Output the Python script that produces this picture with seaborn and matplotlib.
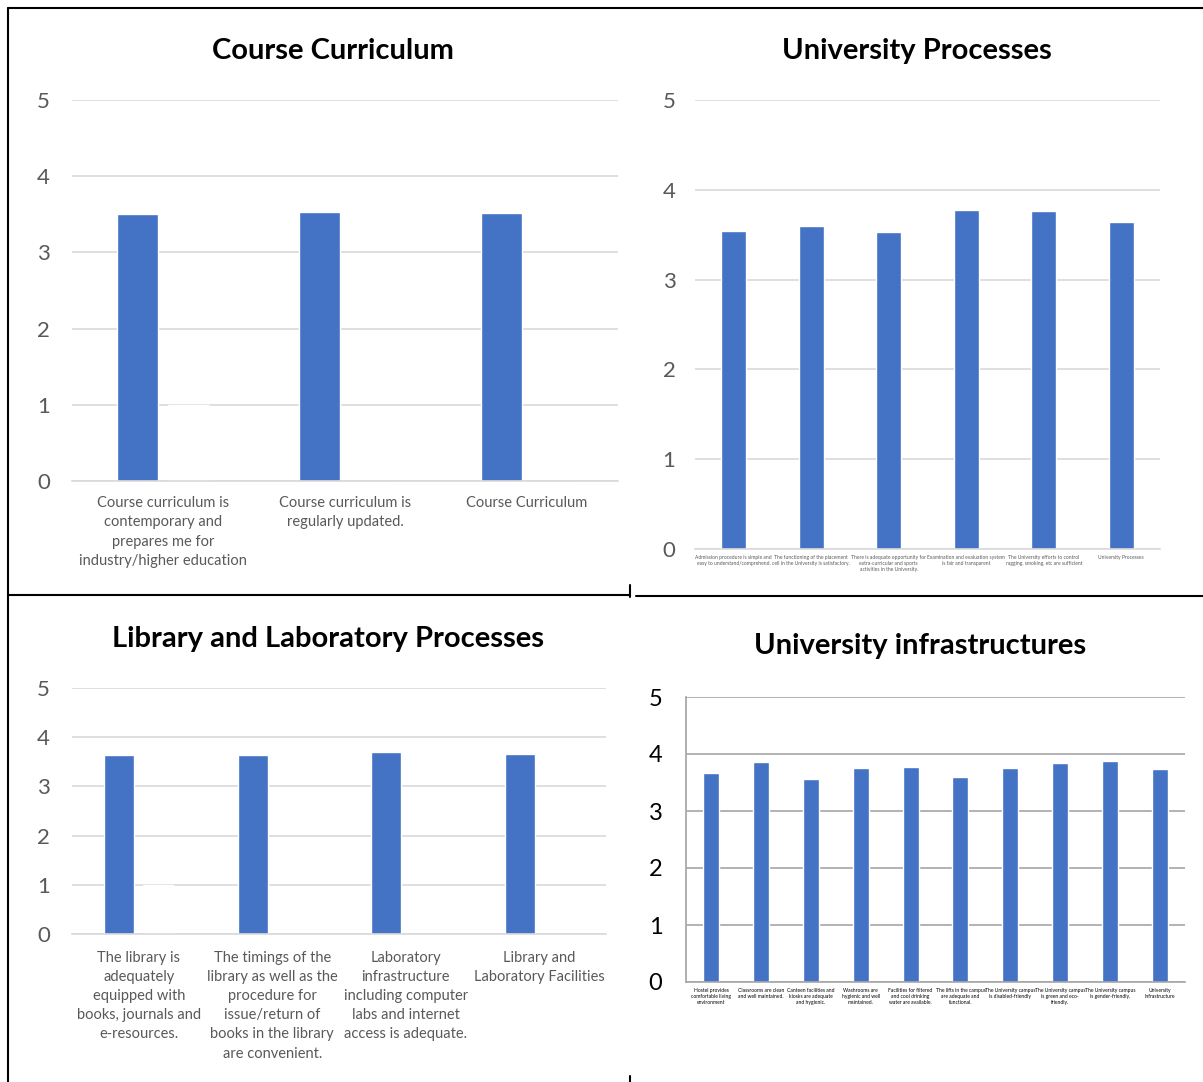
import matplotlib
matplotlib.use("Agg")
import matplotlib.pyplot as plt
import seaborn as sns
import pandas as pd

# Course Curriculum (second, blank series shows only as a white sliver)
cc_labels = ["Course curriculum is\ncontemporary and\nprepares me for\nindustry/higher education",
             "Course curriculum is\nregularly updated.",
             "Course Curriculum"]
cc_values = [3.50, 3.53, 3.52]
cc_blank = [1.0, 0.0, 0.0]

# University Processes
up_labels = ["Admission procedure is simple and\neasy to understand/comprehend.",
             "The functioning of the placement\ncell in the University is satisfactory.",
             "There is adequate opportunity for\nextra-curricular and sports\nactivities in the University.",
             "Examination and evaluation system\nis fair and transparent",
             "The University efforts to control\nragging, smoking, etc are sufficient",
             "University Processes"]
up_values = [3.54, 3.60, 3.53, 3.78, 3.76, 3.64]

# Library and Laboratory Processes
ll_labels = ["The library is\nadequately\nequipped with\nbooks, journals and\ne-resources.",
             "The timings of the\nlibrary as well as the\nprocedure for\nissue/return of\nbooks in the library\nare convenient.",
             "Laboratory\ninfrastructure\nincluding computer\nlabs and internet\naccess is adequate.",
             "Library and\nLaboratory Facilities"]
ll_values = [3.64, 3.64, 3.70, 3.66]
ll_blank = [1.0, 0.0, 0.0, 0.0]

# University infrastructures
ui_labels = ["Hostel provides\ncomfortable living\nenvironment",
             "Classrooms are clean\nand well maintained.",
             "Canteen facilities and\nkiosks are adequate\nand hygienic.",
             "Washrooms are\nhygienic and well\nmaintained.",
             "Facilities for filtered\nand cool drinking\nwater are available.",
             "The lifts in the campus\nare adequate and\nfunctional.",
             "The University campus\nis disabled-friendly",
             "The University campus\nis green and eco-\nfriendly.",
             "The University campus\nis gender-friendly.",
             "University\nInfrastructure"]
ui_values = [3.67, 3.86, 3.56, 3.75, 3.77, 3.60, 3.75, 3.84, 3.88, 3.74]

sns.set_theme(style="white")
plt.rcParams['font.family'] = ['Lato', 'DejaVu Sans']

W, H = 1203, 1082
fig = plt.figure(figsize=(W / 100, H / 100), dpi=100)
BLUE = "#4472C4"
GRAY = "#595959"


def add_ax(x0, y0, x1, y1):
    # pixel box (top-left origin) -> figure fraction
    return fig.add_axes([x0 / W, 1 - y1 / H, (x1 - x0) / W, (y1 - y0) / H])


def panel(box, labels, values, title, title_xy, width, tick_fs, tick_color, tick_pad,
          lab_fs, lab_color, lab_pad, lab_ls, grid_color, blank=None, gap=0,
          left_spine=False, title_fs=21):
    ax = add_ax(*box)
    ax.set_axisbelow(True)
    if blank is None:
        df = pd.DataFrame({"item": labels, "score": values})
        sns.barplot(data=df, x="item", y="score", color=BLUE, width=width,
                    saturation=1, ax=ax)
    else:
        df = pd.DataFrame({"item": labels * 2, "score": values + blank,
                           "series": ["a"] * len(labels) + ["b"] * len(labels)})
        sns.barplot(data=df, x="item", y="score", hue="series",
                    palette=[BLUE, "white"], width=width, gap=gap,
                    saturation=1, legend=False, ax=ax)
    ax.set_ylim(0, 5)
    ax.set_xlim(-0.5, len(labels) - 0.5)
    ax.set_yticks(range(6))
    ax.yaxis.grid(True, color=grid_color, linewidth=1.2)
    ax.set_xlabel("")
    ax.set_ylabel("")
    for s in ["top", "right"]:
        ax.spines[s].set_visible(False)
    ax.spines["left"].set_visible(left_spine)
    ax.spines["left"].set_color(grid_color)
    ax.spines["bottom"].set_color(grid_color)
    ax.spines["bottom"].set_linewidth(1.2)
    ax.tick_params(axis="y", length=0, pad=tick_pad, labelsize=tick_fs, labelcolor=tick_color)
    ax.tick_params(axis="x", length=0, pad=lab_pad, labelsize=lab_fs, labelcolor=lab_color)
    ax.set_xticks(range(len(labels)))
    ax.set_xticklabels(labels, linespacing=lab_ls)
    fig.text(title_xy[0] / W, 1 - title_xy[1] / H, title, ha="center", va="center",
             fontsize=title_fs, fontweight="bold", color="black")
    return ax


panel((72, 100, 618, 481), cc_labels, cc_values, "Course Curriculum", (333, 51),
      0.56, 16, GRAY, 16, 10.5, GRAY, 11, 1.47, "#d9d9d9", blank=cc_blank, gap=0.21)
panel((695, 100, 1160, 549), up_labels, up_values, "University Processes", (917, 51),
      0.32, 16, GRAY, 14, 3.6, GRAY, 4, 1.3, "#d9d9d9")
panel((72, 688, 606, 934), ll_labels, ll_values, "Library and Laboratory Processes", (328, 639),
      0.58, 16, GRAY, 16, 10.5, GRAY, 12, 1.47, "#d9d9d9", blank=ll_blank, gap=0.22)
panel((686, 697, 1185, 982), ui_labels, ui_values, "University infrastructures", (920, 646),
      0.32, 17, "black", 17, 3.6, "black", 4, 1.3, "#a6a6a6", left_spine=True)

# table borders around the panels
lines = [((8, 8), (8, H)), ((8, W), (8, 8)), ((8, 630), (595, 595)),
         ((636, W), (596, 596)), ((630, 630), (585, 597)), ((630, 630), (1076, H))]
for xs, ys in lines:
    fig.add_artist(plt.Line2D([x / W for x in xs], [1 - y / H for y in ys],
                              color="black", linewidth=1.5))

fig.savefig("out.png", dpi=100, facecolor="white")
